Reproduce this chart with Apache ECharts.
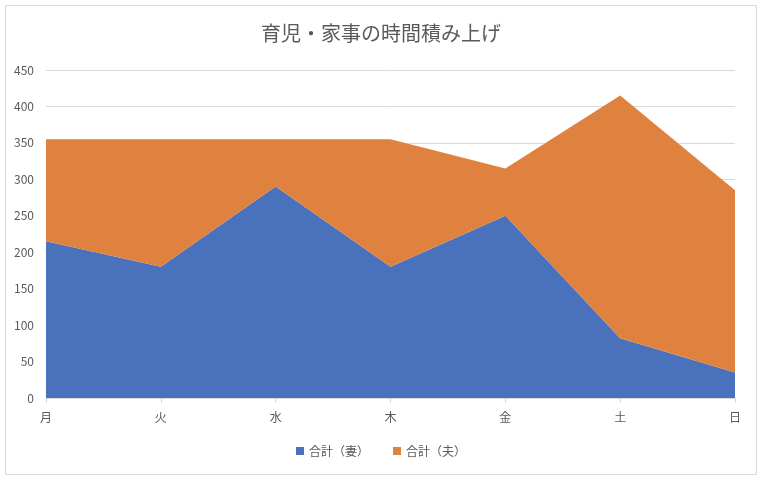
<!DOCTYPE html>
<html>
<head>
<meta charset="utf-8">
<script src="https://cdn.jsdelivr.net/npm/echarts@6/dist/echarts.min.js"></script>
<style>
html,body{margin:0;padding:0;background:#fff;}
#chart{width:762px;height:480px;}
</style>
</head>
<body>
<div id="chart"></div>
<script>
var days = ['月', '火', '水', '木', '金', '土', '日'];
var wife = [215, 180, 290, 180, 250, 82, 35];
var husband = [140, 175, 65, 175, 65, 333, 250];

var FONT = '"Noto Sans CJK JP", "Noto Sans", sans-serif';

var chart = echarts.init(document.getElementById('chart'));

chart.setOption({
    backgroundColor: '#fff',
    animation: false,
    textStyle: { fontFamily: FONT },
    title: {
        text: '育児・家事の時間積み上げ',
        left: 'center',
        top: 18,
        textStyle: { fontSize: 20, fontWeight: 'normal', color: '#595959', fontFamily: FONT }
    },
    graphic: [{
        type: 'rect',
        shape: { x: 5.5, y: 5.5, width: 751, height: 469 },
        style: { fill: 'none', stroke: '#d9d9d9', lineWidth: 1 },
        silent: true
    }],
    legend: {
        bottom: 18,
        left: 'center',
        itemWidth: 8,
        itemHeight: 8,
        itemGap: 24,
        icon: 'rect',
        textStyle: { fontSize: 12, color: '#595959', fontFamily: FONT },
        data: ['合計（妻）', '合計（夫）']
    },
    grid: { left: 46, right: 27, top: 70, bottom: 82 },
    xAxis: {
        type: 'category',
        data: days,
        boundaryGap: false,
        axisLine: { lineStyle: { color: '#d9d9d9', width: 1 } },
        axisTick: { show: true, alignWithLabel: true, length: 5, lineStyle: { color: '#d9d9d9' } },
        axisLabel: { color: '#595959', fontSize: 12, margin: 13 }
    },
    yAxis: {
        type: 'value',
        min: 0,
        max: 450,
        interval: 50,
        axisLine: { show: false },
        axisTick: { show: false },
        axisLabel: { color: '#595959', fontSize: 12, margin: 12 },
        splitLine: { lineStyle: { color: '#d9d9d9', width: 1 } }
    },
    series: [
        {
            name: '合計（妻）',
            type: 'line',
            stack: 'total',
            data: wife,
            symbol: 'none',
            lineStyle: { width: 0 },
            itemStyle: { color: '#4A72BC' },
            areaStyle: { color: '#4A72BC', opacity: 1 }
        },
        {
            name: '合計（夫）',
            type: 'line',
            stack: 'total',
            data: husband,
            symbol: 'none',
            lineStyle: { width: 0 },
            itemStyle: { color: '#E0823F' },
            areaStyle: { color: '#E0823F', opacity: 1 }
        }
    ]
});
</script>
</body>
</html>
